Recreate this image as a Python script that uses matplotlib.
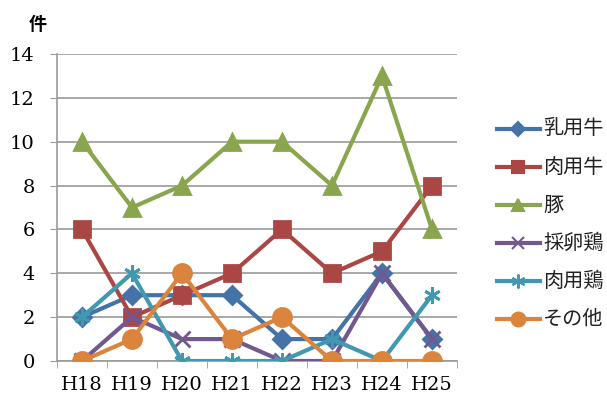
import matplotlib
matplotlib.use("Agg")
import matplotlib.pyplot as plt
from matplotlib.lines import Line2D

years = ["H18", "H19", "H20", "H21", "H22", "H23", "H24", "H25"]
names = ["乳用牛", "肉用牛", "豚", "採卵鶏", "肉用鶏", "その他"]
dairy = [2, 3, 3, 3, 1, 1, 4, 1]
beef = [6, 2, 3, 4, 6, 4, 5, 8]
pig = [10, 7, 8, 10, 10, 8, 13, 6]
layer = [0, 2, 1, 1, 0, 0, 4, 1]
broiler = [2, 4, 0, 0, 0, 1, 0, 3]
other = [0, 1, 4, 1, 2, 0, 0, 0]
yticks = [0, 2, 4, 6, 8, 10, 12, 14]

series = [dairy, beef, pig, layer, broiler, other]
colors = ["#4572A7", "#AA4643", "#89A54E", "#71588F", "#4198AF", "#DB843D"]
markers = ["D", "s", "^", "x", (6, 2, 0), "o"]
msizes = [9, 12, 12, 11, 12, 13]
leg_msizes = [7, 9, 9, 9, 10, 10]

W, H = 607, 396
fig = plt.figure(figsize=(W / 100, H / 100), dpi=100)
ax = fig.add_axes([57/W, 35/H, 400/W, 307/H])

x = list(range(len(years)))
for vals, c, m, ms, n in zip(series, colors, markers, msizes, names):
    ax.plot(x, vals, color=c, lw=3, marker=m, ms=ms, mec=c, mew=2, label=n, zorder=3)

ax.set_xlim(-0.5, len(years) - 0.5)
ax.set_ylim(0, 14)
ax.set_yticks(yticks)
ax.set_yticklabels([str(v) for v in yticks], family="DejaVu Serif", fontsize=14)
ax.set_xticks(x)
ax.set_xticklabels(years, family="DejaVu Serif", fontsize=14)
ax.tick_params(axis="x", length=0, pad=11)
ax.set_xticks([i - 0.5 for i in range(len(years) + 1)], minor=True)
ax.tick_params(axis="x", which="minor", length=5, color="#9a9a9a", direction="out")
ax.tick_params(axis="y", length=5, color="#9a9a9a", pad=11)
ax.grid(axis="y", color="#9a9a9a", lw=1.2)
ax.set_axisbelow(True)
for s in ["top", "right"]:
    ax.spines[s].set_visible(False)
for s in ["left", "bottom"]:
    ax.spines[s].set_color("#9a9a9a")
    ax.spines[s].set_linewidth(1.2)

fig.text(29/W, 1 - 24/H, "件", family="Noto Sans CJK JP", fontsize=13,
         fontweight="bold", va="center", ha="left")

# legend drawn in figure pixel positions
for i, (c, m, ms, n) in enumerate(zip(colors, markers, leg_msizes, names)):
    yp = 1 - (129 + 38 * i) / H
    fig.add_artist(Line2D([497/W, 540/W], [yp, yp], color=c, lw=3,
                          transform=fig.transFigure))
    fig.add_artist(Line2D([518/W], [yp], color=c, marker=m, ms=ms, mec=c, mew=1.5,
                          transform=fig.transFigure))
    fig.text(543/W, yp, n, family="Noto Sans CJK JP", fontsize=14.5,
             va="center", ha="left", color="#222222")

fig.savefig("out.png", dpi=100)
